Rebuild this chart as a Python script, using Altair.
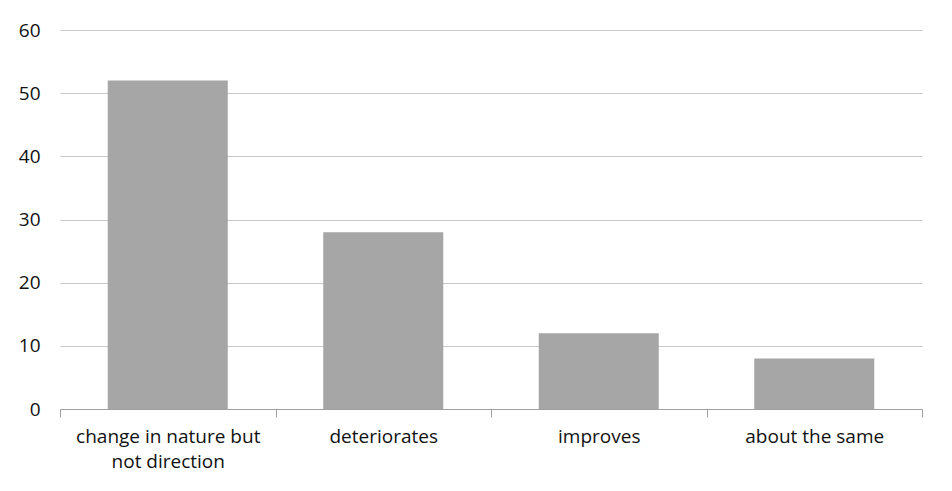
import altair as alt
import pandas as pd

categories = ["change in nature but\nnot direction", "deteriorates", "improves", "about the same"]
values = [52, 28, 12, 8]

df = pd.DataFrame({"category": categories, "value": values})

chart = alt.Chart(df).mark_bar(color="#a6a6a6", width=alt.RelativeBandSize(0.557)).encode(
    x=alt.X("category:N", sort=categories, title=None,
            scale=alt.Scale(paddingInner=0, paddingOuter=0),
            axis=alt.Axis(labelAngle=0, labelExpr="split(datum.label, '\\n')",
                          tickBand="extent", tickSize=8, tickColor="#a0a0a0",
                          domainColor="#a0a0a0", labelFontSize=19, labelColor="#111111",
                          labelPadding=10, labelFont="Open Sans", labelLineHeight=25,
                          labelLimit=400, grid=False)),
    y=alt.Y("value:Q", title=None,
            scale=alt.Scale(domain=[0, 60]),
            axis=alt.Axis(values=[0, 10, 20, 30, 40, 50, 60], domain=False, ticks=False,
                          labelFontSize=19, labelColor="#111111", labelPadding=20,
                          labelFont="Open Sans", gridColor="#c8c8c8", gridWidth=1)),
).properties(
    width=862, height=379,
    autosize=alt.AutoSizeParams(type="none"),
    padding={"left": 52, "top": 22, "right": 22, "bottom": 70},
).configure_view(stroke=None)

chart.save("out.html", embed_options={"renderer": "svg", "actions": False})
